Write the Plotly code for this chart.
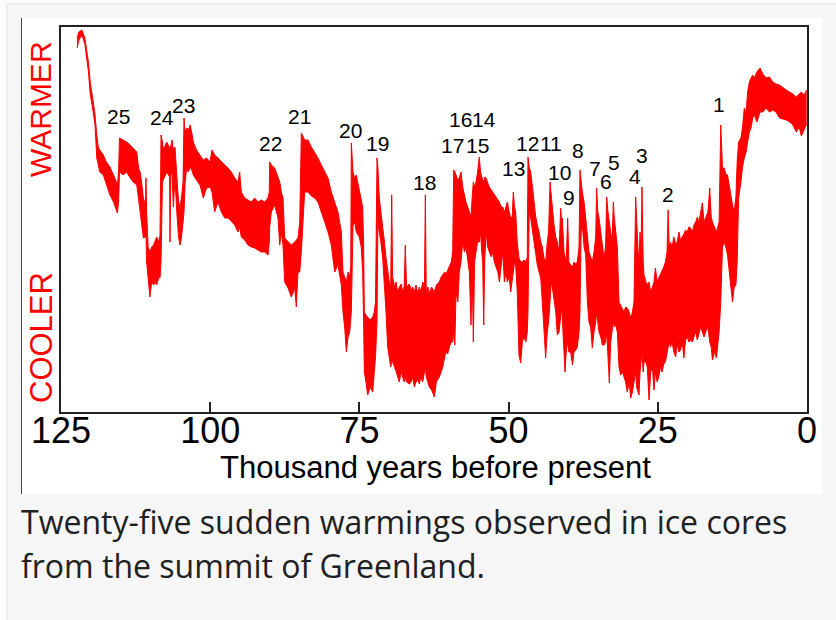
import plotly.graph_objects as go

# ---------------- data ----------------
# age in thousand years before present, upper / lower envelope of the
# (unitless) relative-warmth record
age_kyr = [
    122.3, 122.0, 121.5, 121.0, 120.4, 120.1, 119.6, 119.3, 119.0, 118.75,
    118.5, 117.9, 117.4, 116.8, 116.2, 115.9, 115.55, 115.35, 115.2, 114.6,
    114.0, 113.4, 112.9, 112.3, 112.0, 111.75, 111.5, 111.2, 110.85, 110.76,
    110.65, 110.4, 110.1, 109.8, 109.5, 109.2, 108.96, 108.6, 108.41, 108.24,
    108.0, 107.86, 107.29, 106.8, 106.74, 106.6, 106.4, 106.18, 105.9, 105.6,
    105.3, 105.06, 104.8, 104.55, 104.39, 104.2, 103.94, 103.66, 103.38, 103.1,
    102.83, 102.3, 101.71, 101.16, 100.6, 100.03,
    99.7, 99.25, 98.7, 98.13, 97.57, 97.0, 96.46, 95.9, 95.34, 95.06,
    94.79, 94.22, 93.67, 93.11, 92.55, 91.99, 91.44, 90.87, 90.31, 90.1,
    90.03, 89.76, 89.19, 88.64, 88.35, 88.08, 87.8, 87.52, 86.96, 86.41,
    85.84, 85.57, 85.29, 85.0, 84.73, 84.17, 83.61, 83.06, 82.49, 81.94,
    81.38, 80.81, 80.26, 79.71, 79.14, 78.59, 78.03, 77.75, 77.47, 77.19,
    76.9, 76.62, 76.45, 76.35, 76.07, 75.8, 75.52, 75.23,
    75.01, 74.7, 74.45, 74.3, 74.17, 73.9, 73.61, 73.2, 72.77, 72.5,
    72.3, 72.05, 71.9, 71.67, 71.4, 71.1, 70.8, 70.54, 70.26, 69.99,
    69.75, 69.59, 69.43, 69.1, 68.87, 68.6, 68.31, 68.0, 67.75, 67.5,
    67.31, 67.1, 66.64, 66.3, 66.07, 65.8, 65.52, 65.2, 64.96, 64.7,
    64.39, 64.1, 63.95, 63.8, 63.5, 63.28, 62.9, 62.45, 62.1, 61.61,
    61.3, 61.04, 60.7, 60.49, 60.2, 59.93, 59.6, 59.37, 59.2, 59.0,
    58.81, 58.5, 58.26, 57.98, 57.69, 57.4, 57.14, 56.85, 56.58, 56.3,
    56.1, 55.91, 55.7, 55.46, 55.2, 54.91, 54.7, 54.5, 54.34, 54.17,
    54.0, 53.78, 53.5, 53.23, 52.9, 52.66, 52.4, 52.11, 51.8, 51.55,
    51.25, 50.98,
    50.7, 50.44, 50.21, 49.9, 49.65, 49.4, 49.21, 49.0, 48.81, 48.55,
    48.26, 47.97, 47.7, 47.42, 47.1, 46.87, 46.75, 46.55, 46.3, 46.0,
    45.74, 45.45, 45.19, 44.9, 44.62, 44.35, 44.07, 43.79, 43.52, 43.3,
    43.06, 42.85, 42.68, 42.39, 42.1, 41.84, 41.55, 41.27, 41.1, 41.0,
    40.72, 40.55, 40.35, 40.1, 39.9, 39.6, 39.3, 39.04, 38.75, 38.49,
    38.2, 38.04, 37.85, 37.65, 37.35, 37.08, 36.8, 36.53, 36.25, 35.98,
    35.69, 35.4, 35.25, 35.05, 34.85, 34.55, 34.3, 34.01, 33.75, 33.56,
    33.35, 33.12, 32.9, 32.65, 32.45, 32.3, 32.05, 31.78, 31.5, 31.22,
    30.9, 30.66, 30.4, 30.11, 29.8, 29.54, 29.25, 28.99, 28.71, 28.55,
    28.3, 28.15, 27.98, 27.8, 27.65, 27.45, 27.31, 27.0, 26.76, 26.47,
    26.19, 25.9, 25.64,
    25.4, 25.1, 24.85, 24.55, 24.28, 24.0, 23.73, 23.45, 23.27, 23.1,
    22.87, 22.6, 22.32, 22.0, 21.75, 21.45, 21.2, 20.9, 20.63, 20.35,
    20.07, 19.8, 19.5, 19.2, 18.95, 18.65, 18.38, 18.1, 17.81, 17.54,
    17.25, 16.97, 16.6, 16.3, 16.05, 15.85, 15.5, 15.18, 14.95, 14.73,
    14.45, 14.3, 14.16, 13.89, 13.6, 13.32, 13.0, 12.75, 12.48, 12.2,
    11.91, 11.7, 11.46, 11.07, 10.8, 10.51, 10.2, 9.95, 9.65, 9.38,
    9.1, 8.82, 8.4, 7.86, 7.4, 6.85, 6.3, 5.73, 5.2, 4.6,
    4.0, 3.48, 2.9, 2.36, 1.79, 1.3, 0.95, 0.5, 0.05,
]
warm_hi = [
    374, 380, 382, 374, 350, 330, 310, 297, 277, 265,
    262, 257, 250, 245, 237, 232, 227, 240, 274, 272,
    270, 267, 264, 260, 244, 240, 230, 214, 207, 234,
    200, 165, 160, 165, 167, 172, 175, 170, 177, 277,
    270, 262, 270, 264, 262, 266, 272, 262, 265, 237,
    210, 205, 215, 230, 294, 280, 284, 282, 287, 280,
    270, 262, 257, 252, 254, 250,
    262, 257, 254, 250, 247, 244, 240, 234, 230, 240,
    220, 214, 212, 210, 214, 210, 212, 210, 214, 220,
    250, 247, 244, 234, 230, 220, 214, 174, 170, 167,
    170, 172, 174, 190, 279, 272, 272, 265, 260, 254,
    247, 240, 234, 220, 210, 200, 180, 140, 135, 130,
    140, 135, 145, 269, 240, 234, 237, 228,
    225, 215, 205, 170, 100, 97, 95, 92, 95, 100,
    110, 254, 245, 215, 200, 187, 170, 154, 140, 130,
    125, 217, 135, 125, 130, 120, 125, 128, 120, 125,
    167, 125, 128, 122, 125, 120, 127, 118, 125, 120,
    130, 125, 217, 120, 125, 118, 125, 120, 127, 130,
    135, 137, 140, 138, 142, 145, 150, 160, 242, 240,
    237, 232, 234, 240, 225, 215, 210, 205, 200, 195,
    215, 230, 225, 230, 240, 255, 240, 234, 232, 230,
    235, 234, 228, 225, 222, 220, 218, 215, 212, 210,
    205, 205,
    200, 205, 210, 200, 194, 195, 220, 205, 200, 170,
    154, 150, 150, 152, 150, 155, 255, 245, 240, 225,
    210, 195, 187, 180, 170, 165, 154, 150, 170, 180,
    230, 215, 200, 187, 175, 170, 160, 204, 190, 194,
    160, 154, 150, 194, 150, 147, 145, 150, 148, 150,
    165, 242, 230, 220, 210, 194, 170, 160, 155, 150,
    160, 175, 224, 200, 194, 180, 165, 154, 165, 215,
    200, 187, 180, 170, 210, 195, 180, 165, 110, 107,
    104, 100, 105, 104, 100, 94, 100, 110, 215, 187,
    160, 150, 180, 160, 225, 150, 137, 130, 127, 130,
    120, 125, 130,
    144, 130, 134, 138, 140, 145, 150, 160, 202, 165,
    170, 165, 175, 168, 170, 180, 172, 175, 178, 182,
    180, 185, 184, 180, 187, 190, 195, 190, 200, 209,
    190, 195, 200, 224, 195, 190, 185, 180, 185, 190,
    287, 250, 244, 244, 238, 237, 225, 214, 207, 200,
    215, 250, 270, 274, 285, 304, 300, 320, 330, 334,
    337, 334, 340, 344, 338, 334, 335, 330, 328, 327,
    324, 322, 320, 318, 315, 318, 320, 317, 322,
]
warm_lo = [
    364, 372, 377, 368, 340, 318, 300, 287, 254, 247,
    240, 237, 227, 217, 210, 205, 199, 210, 240, 237,
    240, 234, 230, 227, 214, 200, 190, 174, 175, 180,
    150, 135, 115, 130, 127, 130, 127, 135, 134, 150,
    230, 232, 240, 235, 170, 237, 240, 205, 234, 200,
    175, 167, 175, 190, 200, 230, 244, 240, 245, 242,
    237, 232, 227, 214, 224, 225,
    220, 200, 210, 200, 194, 194, 190, 187, 180, 185,
    175, 172, 167, 165, 164, 162, 160, 160, 157, 170,
    185, 200, 207, 194, 167, 180, 167, 130, 124, 115,
    124, 105, 140, 140, 160, 220, 220, 216, 214, 210,
    200, 190, 180, 167, 140, 147, 127, 100, 85, 60,
    75, 80, 90, 100, 187, 190, 180, 177,
    175, 165, 140, 90, 40, 30, 17, 25, 20, 40,
    55, 90, 190, 180, 170, 154, 130, 100, 65, 54,
    45, 50, 50, 45, 40, 35, 30, 40, 35, 30,
    35, 30, 28, 30, 35, 25, 30, 32, 28, 35,
    30, 40, 45, 35, 30, 25, 22, 15, 30, 35,
    40, 45, 55, 60, 58, 65, 70, 70, 80, 67,
    120, 110, 140, 150, 170, 160, 165, 150, 140, 87,
    140, 70, 150, 160, 170, 170, 180, 160, 150, 87,
    150, 180, 165, 160, 155, 160, 150, 145, 140, 130,
    150, 160,
    130, 140, 130, 135, 120, 130, 140, 150, 147, 120,
    57, 49, 70, 75, 70, 80, 100, 200, 194, 180,
    170, 155, 147, 140, 134, 110, 74, 54, 80, 90,
    110, 130, 125, 114, 100, 77, 80, 95, 105, 94,
    50, 40, 60, 70, 60, 60, 47, 60, 62, 65,
    80, 100, 180, 187, 165, 157, 110, 90, 85, 64,
    80, 90, 100, 90, 80, 75, 67, 67, 70, 80,
    60, 29, 70, 80, 90, 85, 87, 80, 45, 37,
    40, 35, 30, 20, 30, 14, 20, 30, 40, 25,
    20, 17, 40, 50, 60, 40, 50, 50, 45, 12,
    40, 45, 22,
    40, 30, 35, 45, 40, 48, 50, 60, 65, 70,
    65, 70, 60, 55, 68, 60, 62, 70, 54, 72,
    75, 70, 72, 70, 75, 80, 72, 78, 85, 80,
    75, 80, 85, 70, 65, 52, 60, 54, 70, 80,
    110, 160, 165, 170, 165, 157, 140, 130, 110, 125,
    127, 150, 214, 230, 245, 254, 260, 270, 280, 284,
    294, 297, 290, 300, 300, 304, 300, 302, 300, 294,
    293, 292, 290, 287, 280, 285, 276, 282, 288,
]

# numbered sudden-warming events: label text and its position (age, warmth)
event_labels = ["25", "24", "23", "22", "21", "20", "19", "18", "17", "16",
                "15", "14", "13", "12", "11", "10", "9", "8", "7", "6",
                "5", "4", "3", "2", "1"]
event_age = [115.37, 108.08, 104.47, 89.98, 85.12, 76.41, 72.05, 64.01, 59.32, 58.06,
             55.29, 54.04, 49.10, 46.85, 42.95, 41.39, 39.96, 38.29, 35.44, 33.68,
             32.42, 28.90, 27.65, 23.29, 14.75]
event_warmth = [296, 295, 307, 269, 296, 282, 269, 230, 267, 293,
                267, 293, 244, 269, 269, 240, 215, 262, 244, 231,
                250, 236, 257, 218, 308]

x_ticks = [125, 100, 75, 50, 25, 0]
x_tick_text = ["125", "100", "75", "50", "25", "0"]

x_title = "Thousand years before present"
caption_lines = ["Twenty-five sudden warmings observed in ice cores",
                 "from the summit of Greenland."]

# ---------------- layout geometry ----------------
W, H = 836, 620
L, R, T, B = 61, 807, 27, 412


def fx(px):
    return (px - L) / (R - L)


def fy(py):
    return (B - py) / (B - T)


ARIAL = "Liberation Sans, Arial, sans-serif"
RED = "#ff0000"

fig = go.Figure()
fig.add_trace(go.Scatter(x=age_kyr, y=warm_lo, mode="lines",
                         line=dict(color=RED, width=1), hoverinfo="skip",
                         showlegend=False))
fig.add_trace(go.Scatter(x=age_kyr, y=warm_hi, mode="lines",
                         line=dict(color=RED, width=1), fill="tonexty",
                         fillcolor=RED, hoverinfo="skip", showlegend=False))

annotations = []
for lab, a, w in zip(event_labels, event_age, event_warmth):
    annotations.append(dict(x=a, y=w, xref="x", yref="y", text=lab,
                            showarrow=False, xanchor="center", yanchor="middle",
                            font=dict(family=ARIAL, size=21, color="black")))

annotations += [
    dict(x=fx(435), y=fy(467), xref="paper", yref="paper", text=x_title,
         showarrow=False, xanchor="center", yanchor="middle",
         font=dict(family=ARIAL, size=31, color="black")),
    dict(x=fx(41), y=fy(109), xref="paper", yref="paper", text="WARMER",
         textangle=-90, showarrow=False, xanchor="center", yanchor="middle",
         font=dict(family=ARIAL, size=30, color=RED)),
    dict(x=fx(41), y=fy(338), xref="paper", yref="paper", text="COOLER",
         textangle=-90, showarrow=False, xanchor="center", yanchor="middle",
         font=dict(family=ARIAL, size=31, color=RED)),
    dict(x=fx(19), y=fy(521), xref="paper", yref="paper", text=caption_lines[0],
         showarrow=False, xanchor="left", yanchor="middle",
         font=dict(family="Open Sans, sans-serif", size=32, color="#202122")),
    dict(x=fx(19), y=fy(565), xref="paper", yref="paper", text=caption_lines[1],
         showarrow=False, xanchor="left", yanchor="middle",
         font=dict(family="Open Sans, sans-serif", size=32, color="#202122")),
]

shapes = [
    dict(type="rect", xref="paper", yref="paper", x0=fx(7), x1=fx(845),
         y0=fy(4), y1=fy(630), fillcolor="#f6f6f6",
         line=dict(color="#e2e2e2", width=1), layer="below"),
    dict(type="rect", xref="paper", yref="paper", x0=fx(21), x1=fx(822),
         y0=fy(18), y1=fy(494), fillcolor="white", line=dict(width=0),
         layer="below"),
    dict(type="line", xref="paper", yref="paper", x0=fx(21.5), x1=fx(21.5),
         y0=fy(18), y1=fy(494), line=dict(color="#444444", width=1),
         layer="below"),
]

fig.update_layout(
    width=W, height=H,
    margin=dict(l=L, r=W - R, t=T, b=H - B, pad=0),
    paper_bgcolor="#fbfbfb", plot_bgcolor="white",
    showlegend=False,
    annotations=annotations, shapes=shapes,
    xaxis=dict(range=[125, 0], tickvals=x_ticks, ticktext=x_tick_text,
               ticks="inside", ticklen=10, tickwidth=1.5, tickcolor="#222222",
               ticklabelstandoff=-14,
               showgrid=False, zeroline=False, showline=True, linecolor="#222222",
               linewidth=2, mirror=True,
               tickfont=dict(family=ARIAL, size=36, color="black")),
    yaxis=dict(range=[0, 385], showticklabels=False, ticks="", showgrid=False,
               zeroline=False, showline=True, linecolor="#222222", linewidth=2,
               mirror=True),
)

fig.write_html("out.html", config={"displayModeBar": False},
               post_script="document.body.style.margin='0';")
